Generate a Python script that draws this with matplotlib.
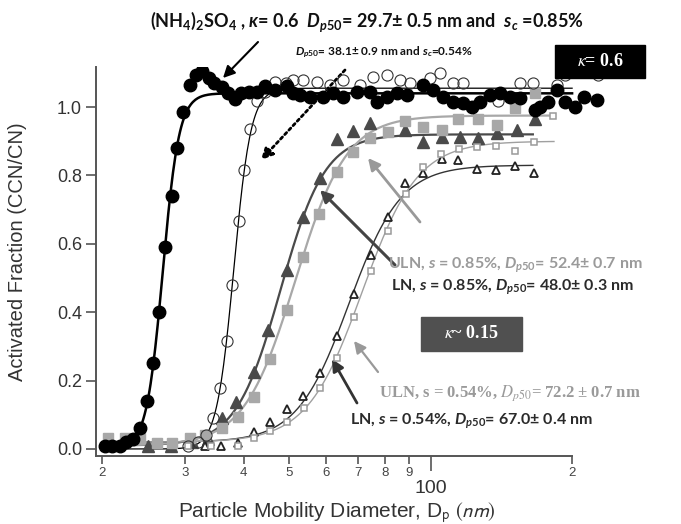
import numpy as np
import matplotlib
matplotlib.use('Agg')
import matplotlib.pyplot as plt
from matplotlib.ticker import FixedLocator, FixedFormatter
from matplotlib.patches import Rectangle

plt.rcParams['font.family'] = ['Liberation Sans', 'DejaVu Sans']
plt.rcParams['mathtext.fontset'] = 'custom'
plt.rcParams['mathtext.rm'] = 'Lato:bold'
plt.rcParams['mathtext.it'] = 'Lato:italic:bold'
plt.rcParams['mathtext.bf'] = 'Lato:bold'

# ---------------- data ----------------
# (NH4)2SO4, s = 0.85 %  (filled black circles)
as85_x = [20.3, 21.0, 21.8, 22.5, 23.3, 24.1, 24.9, 25.7, 26.4, 27.2, 28.1, 28.9, 29.7, 30.7,
          31.6, 32.6, 33.8, 34.6, 35.9, 37.0, 38.4, 39.5, 41.0, 42.7, 44.5, 46.7, 49.5, 50.9,
          52.7, 55.3, 59.1, 62.0, 65.1, 69.6, 74.2, 76.7, 80.6, 84.6, 88.9, 96.4, 101.2, 106.3,
          111.6, 117.3, 122.2, 127.2, 133.6, 140.3, 147.4, 154.8, 166.6, 170.7, 177.8, 185.3,
          193.0, 202.6, 212.0, 225.8]
as85_y = [0.01, 0.01, 0.01, 0.02, 0.03, 0.06, 0.14, 0.25, 0.40, 0.59, 0.74, 0.88, 0.985, 1.064,
          1.094, 1.106, 1.084, 1.071, 1.058, 1.04, 1.023, 1.04, 1.043, 1.045, 1.06, 1.05, 1.061, 1.04,
          1.035, 1.03, 1.03, 1.04, 1.03, 1.045, 1.045, 1.015, 1.03, 1.04, 1.035, 1.064, 1.05, 1.03,
          1.015, 1.011, 1.0, 1.015, 1.035, 1.04, 1.03, 1.025, 0.99, 1.0, 1.015, 1.05,
          1.015, 1.0, 1.03, 1.02]
# (NH4)2SO4, s = 0.54 %  (open circles)
as54_x = [30.5, 32.0, 33.3, 34.4, 35.6, 36.8, 37.8, 39.1, 40.1, 41.2, 42.7, 44.5, 46.7, 49.2,
          50.9, 53.5, 57.2, 61.0, 65.1, 70.7, 75.4, 80.6, 86.0, 90.3, 99.6, 104.6, 111.6, 117.3,
          139.2, 154.8, 165.2, 185.3, 193.0, 226.8]
as54_y = [0.01, 0.02, 0.04, 0.09, 0.177, 0.317, 0.48, 0.667, 0.816, 0.936, 1.018, 1.045, 1.074, 1.069,
          1.079, 1.079, 1.074, 1.064, 1.079, 1.064, 1.089, 1.094, 1.079, 1.069, 1.084, 1.099, 1.069, 1.069,
          1.018, 1.069, 1.069, 1.064, 1.094, 1.094]
# LN, s = 0.85 %  (filled dark triangles)
ln85_x = [25.0, 28.0, 31.0, 33.5, 35.9, 38.6, 42.1, 45.1, 49.4, 53.4, 58.1, 63.1, 68.4, 74.2,
          88.1, 96.4, 105.5, 115.4, 126.2, 138.1, 152.3, 166.6]
ln85_y = [0.01, 0.01, 0.02, 0.03, 0.09, 0.138, 0.226, 0.348, 0.523, 0.679, 0.792, 0.906, 0.931, 0.954,
          0.933, 0.899, 0.913, 0.913, 0.908, 0.923, 0.933, 0.964]
# ULN, s = 0.85 %  (filled light-gray squares)
uln85_x = [20.6, 22.4, 24.1, 26.1, 28.1, 30.7, 33.1, 35.9, 38.8, 42.1, 45.5, 49.4, 53.5, 57.9,
           63.1, 68.4, 74.2, 81.2, 88.1, 96.4, 105.5, 114.4, 126.2, 138.1, 151.1, 166.6]
uln85_y = [0.031, 0.031, 0.031, 0.018, 0.018, 0.031, 0.041, 0.06, 0.093, 0.151, 0.262, 0.406, 0.562, 0.686,
           0.811, 0.869, 0.908, 0.928, 0.959, 0.942, 0.933, 0.964, 0.964, 0.947, 0.996, 1.04]
# LN, s = 0.54 %  (open triangles)
ln54_x = [33.1, 35.8, 38.8, 42.1, 45.5, 49.4, 53.5, 58.1, 63.1, 68.6, 74.6, 81.1, 88.1, 96.3,
          105.5, 114.4, 125.6, 137.4, 151.1, 165.8]
ln54_y = [0.009, 0.009, 0.017, 0.05, 0.08, 0.116, 0.156, 0.221, 0.33, 0.453, 0.567, 0.679, 0.777, 0.808,
          0.848, 0.846, 0.819, 0.816, 0.827, 0.807]
# ULN, s = 0.54 %  (open gray squares)
uln54_x = [30.5, 34.0, 38.8, 42.1, 45.5, 49.4, 53.7, 58.1, 63.1, 68.6, 74.6, 81.2, 88.4, 96.3,
           105.0, 114.8, 125.6, 137.5, 151.1, 165.8, 182.3]
uln54_y = [0.009, 0.009, 0.01, 0.031, 0.052, 0.08, 0.119, 0.177, 0.265, 0.387, 0.521, 0.637, 0.745, 0.825,
           0.862, 0.876, 0.882, 0.886, 0.872, 0.899, 0.975]

# sigmoid fit parameters (as drawn): Dp50 [nm], plateau, log-width, baseline, last size [nm]
fit_dp50 = [26.9, 38.1, 47.9, 51.5, 67.0, 71.5]
fit_top = [1.04, 1.055, 0.92, 0.975, 0.83, 0.90]
fit_width = [0.040, 0.042, 0.109, 0.126, 0.127, 0.1355]
fit_base = [0.0, 0.0, 0.01, 0.01, 0.02, 0.02]
fit_xmax = [200, 200, 165, 183, 165, 183]

x_major = [100]
x_major_labels = ['100']
x_minor = [20, 30, 40, 50, 60, 70, 80, 90, 200]
x_minor_labels = ['2', '3', '4', '5', '6', '7', '8', '9', '2']
y_ticks = [0.0, 0.2, 0.4, 0.6, 0.8, 1.0]

# ---------------- figure ----------------
W, H = 681, 524
fig = plt.figure(figsize=(W / 100, H / 100), dpi=100)
ax = fig.add_axes([96 / W, 1 - 456 / H, (605 - 96) / W, (456 - 67) / H])


def fp(x, y):
    """top-left pixel -> figure fraction"""
    return (x / W, 1 - y / H)


styles = [
    dict(lc='black', lw=1.8),
    dict(lc='black', lw=0.9),
    dict(lc='#4a4a4a', lw=1.6),
    dict(lc='#a8a8a8', lw=1.6),
    dict(lc='#333333', lw=1.0),
    dict(lc='#a0a0a0', lw=1.0),
]
for i in range(6):
    xx = np.logspace(np.log10(20), np.log10(fit_xmax[i]), 400)
    yy = fit_base[i] + (fit_top[i] - fit_base[i]) / (
        1 + np.exp(-(np.log(xx) - np.log(fit_dp50[i])) / fit_width[i]))
    ax.plot(xx, yy, color=styles[i]['lc'], lw=styles[i]['lw'], zorder=2)

ax.plot(ln85_x, ln85_y, ls='none', marker='^', ms=8.5, mfc='#4a4a4a', mec='#4a4a4a', zorder=3)
ax.plot(uln85_x, uln85_y, ls='none', marker='s', ms=7.5, mfc='#a8a8a8', mec='#a8a8a8', zorder=4)
ax.plot(ln54_x, ln54_y, ls='none', marker='^', ms=6, mfc='white', mec='#222222', mew=1.3, zorder=5)
ax.plot(uln54_x, uln54_y, ls='none', marker='s', ms=5, mfc='white', mec='#9a9a9a', mew=1.1, zorder=5)
ax.plot(as54_x, as54_y, ls='none', marker='o', ms=8, mfc='none', mec='#333333', mew=0.8, zorder=6)
ax.plot(as85_x, as85_y, ls='none', marker='o', ms=9, mfc='black', mec='black', zorder=7)

ax.set_xscale('log')
ax.set_xlim(19.39, 235)
ax.set_ylim(-0.0205, 1.117)
ax.xaxis.set_major_locator(FixedLocator(x_major))
ax.xaxis.set_major_formatter(FixedFormatter(x_major_labels))
ax.xaxis.set_minor_locator(FixedLocator(x_minor))
ax.xaxis.set_minor_formatter(FixedFormatter(x_minor_labels))
ax.set_yticks(y_ticks)
ax.set_yticklabels(['%.1f' % v for v in y_ticks])

for s in ['top', 'right']:
    ax.spines[s].set_visible(False)
for s in ['left', 'bottom']:
    ax.spines[s].set_color('#555555')
    ax.spines[s].set_linewidth(1.4)
ax.spines['bottom'].set_bounds(19.39, 200)

ax.tick_params(axis='y', direction='out', length=7, width=1.2, color='#555555',
               labelsize=13, labelcolor='#333333', pad=3)
ax.tick_params(axis='x', which='minor', direction='out', length=6, width=1.2, color='#555555',
               labelsize=9.5, labelcolor='#444444', pad=2)
ax.tick_params(axis='x', which='major', direction='out', length=11, width=1.2, color='#555555',
               labelsize=14, labelcolor='#333333', pad=6)

fig.text(*fp(18, 252), 'Activated Fraction (CCN/CN)', rotation=90, ha='center', va='center',
         fontsize=14.5, color='#333333')
fig.text(*fp(337, 513), r'Particle Mobility Diameter, D$_{\mathrm{p}}$ $\mathit{(nm)}$',
         ha='center', va='center', fontsize=15, color='#333333', math_fontfamily='stixsans')

# ---------------- annotations ----------------
lato = dict(family='Lato', weight='bold', math_fontfamily='custom')
fig.text(*fp(150, 22),
         r'(NH$_4$)$_2$SO$_4$ , $\kappa$= $\mathit{0.6}$  $D_{p\mathit{50}}$= 29.7± 0.5 nm and  $s_c$ =0.85%',
         ha='left', va='center', fontsize=13, color='#111111', **lato)
fig.text(*fp(295, 52), r'$D_{p\mathit{50}}$= 38.1± 0.9 nm and $s_c$=0.54%',
         ha='left', va='center', fontsize=8.6, color='#111111', **lato)
fig.text(*fp(388, 265), r'ULN, $s$ = 0.85%, $D_{p\mathit{50}}$= 52.4± 0.7 nm',
         ha='left', va='center', fontsize=11.5, color='#9a9a9a', **lato)
fig.text(*fp(391, 287), r'LN, $s$ = 0.85%, $D_{p\mathit{50}}$= 48.0± 0.3 nm',
         ha='left', va='center', fontsize=11.5, color='#2a2a2a', **lato)
fig.text(*fp(350, 421), r'LN, $s$ = 0.54%, $D_{p\mathit{50}}$= 67.0± 0.4 nm',
         ha='left', va='center', fontsize=11.5, color='#2a2a2a', **lato)
fig.text(*fp(379, 393), r'ULN, s = 0.54%, $D_{p50}$= 72.2 ± 0.7 nm',
         ha='left', va='center', fontsize=12, color='#9a9a9a', family='Liberation Serif',
         weight='bold', math_fontfamily='stix')

fig.add_artist(Rectangle(fp(555, 78), 90 / W, 33 / H, transform=fig.transFigure,
                         fc='black', ec='black'))
fig.text(*fp(600, 62), r'$\kappa$= 0.6', ha='center', va='center', fontsize=13, color='white',
         family='Liberation Serif', weight='bold', math_fontfamily='stix')
fig.add_artist(Rectangle(fp(421, 351), 101 / W, 34 / H, transform=fig.transFigure,
                         fc='#505050', ec='#505050'))
fig.text(*fp(471, 334), r'$\kappa$~ 0.15', ha='center', va='center', fontsize=13, color='white',
         family='Liberation Serif', weight='bold', math_fontfamily='stix')


def arrow(tail, tip, color, lw, ls='-', hw=0.35, hl=0.7):
    ax.annotate('', xy=(tip[0], H - tip[1]), xytext=(tail[0], H - tail[1]),
                xycoords='figure pixels', textcoords='figure pixels',
                arrowprops=dict(arrowstyle='-|>,head_width=%g,head_length=%g' % (hw, hl),
                                color=color, lw=lw, linestyle=ls, shrinkA=0, shrinkB=0),
                annotation_clip=False)


arrow((258, 42), (223, 78), 'black', 1.5)
arrow((345, 70), (261, 160), 'black', 2.0, ls=(0, (1, 1.2)))
arrow((420, 222), (368, 158), '#999999', 2.0)
arrow((395, 265), (320, 190), '#444444', 2.2)
arrow((378, 372), (354, 341), '#999999', 1.6)
arrow((357, 403), (332, 359), '#333333', 2.0)

fig.savefig('out.png', dpi=100)
